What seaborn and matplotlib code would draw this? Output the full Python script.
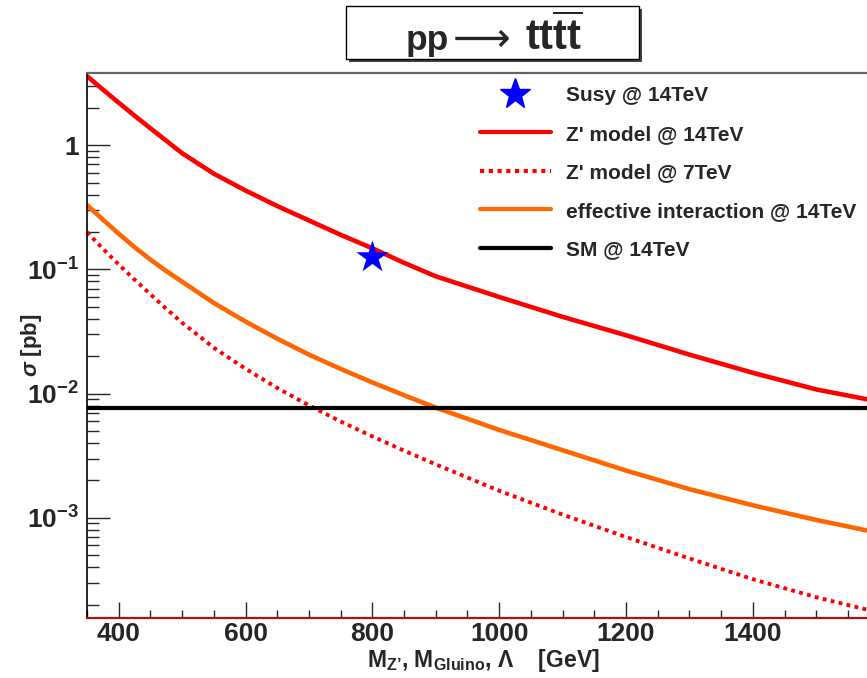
import numpy as np
import pandas as pd
import matplotlib
matplotlib.use("Agg")
import matplotlib.pyplot as plt
import matplotlib.ticker as mticker
from matplotlib.lines import Line2D
from matplotlib.patches import Rectangle
import seaborn as sns

# Cross sections for pp -> tttt (pb) versus the mass scale (GeV)
mass = [350, 375, 400, 425, 450, 475, 500, 550, 600, 650, 700, 750, 800, 850, 900,
        1000, 1100, 1200, 1300, 1400, 1500, 1580]
zprime_14tev = [3.61, 2.81, 2.20, 1.73, 1.37, 1.087, 0.863, 0.59, 0.432, 0.324, 0.248, 0.19,
                0.148, 0.113, 0.088, 0.060, 0.0415, 0.0295, 0.0206, 0.0147, 0.0108, 0.0090]
zprime_7tev = [0.20, 0.147, 0.1096, 0.0828, 0.0631, 0.0482, 0.0372, 0.0234, 0.01585, 0.0111,
               0.00804, 0.00596, 0.00452, 0.00347, 0.00269, 0.00165, 0.00106, 0.00070,
               0.00047, 0.00032, 0.000229, 0.000182]
effective_14tev = [0.330, 0.252, 0.194, 0.151, 0.120, 0.097, 0.0796, 0.0537, 0.038, 0.0277,
                   0.0206, 0.0158, 0.0123, 0.0097, 0.0077, 0.0051, 0.0035, 0.0024, 0.0017,
                   0.00126, 0.00096, 0.00079]
sm_14tev = 0.0076
susy_mass = [800]
susy_14tev = [0.125]

labels = ["Susy @ 14TeV", "Z' model @ 14TeV", "Z' model @ 7TeV",
          "effective interaction @ 14TeV", "SM @ 14TeV"]

sns.set_style("ticks")
plt.rcParams["font.family"] = ["Liberation Sans", "DejaVu Sans"]
plt.rcParams["font.weight"] = "bold"
plt.rcParams["mathtext.fontset"] = "custom"
plt.rcParams["mathtext.rm"] = "Liberation Sans:bold"
plt.rcParams["mathtext.bf"] = "Liberation Sans:bold"
plt.rcParams["mathtext.it"] = "Liberation Sans:bold:italic"
plt.rcParams["mathtext.sf"] = "Liberation Sans:bold"

W, H = 867, 678
fig = plt.figure(figsize=(W / 100, H / 100), dpi=100)
ax = fig.add_axes([87 / W, 1 - 618.3 / H, 1 - 87 / W, (618.3 - 72.7) / H])

df = pd.DataFrame({"mass": mass, "z14": zprime_14tev, "z7": zprime_7tev, "eff": effective_14tev})
df["sm"] = sm_14tev

sns.lineplot(data=df, x="mass", y="z14", ax=ax, color="#ff0000", lw=3.3)
sns.lineplot(data=df, x="mass", y="z7", ax=ax, color="#ff0000", lw=2.8)
l_z7 = ax.lines[-1]
l_z7.set_dashes([1.0, 1.1])
l_z7.set_dash_capstyle("butt")
sns.lineplot(data=df, x="mass", y="eff", ax=ax, color="#ff6600", lw=3.3)
sns.lineplot(data=df, x="mass", y="sm", ax=ax, color="black", lw=3.0)
sns.scatterplot(x=susy_mass, y=susy_14tev, ax=ax, marker="*", s=600, color="#0000ff",
                edgecolor="#0000ff", linewidth=0, zorder=5)

ax.set_yscale("log")
ax.set_xlim(350, 1580)
ax.set_ylim(1.55e-4, 3.84)

# axis frame
ax.spines["right"].set_visible(False)
ax.spines["left"].set_color("black")
ax.spines["left"].set_linewidth(1.2)
ax.spines["top"].set_color("#666666")
ax.spines["top"].set_linewidth(1.6)
ax.spines["bottom"].set_color("#b01010")
ax.spines["bottom"].set_linewidth(1.6)

ax.xaxis.set_major_locator(mticker.MultipleLocator(200))
ax.xaxis.set_minor_locator(mticker.MultipleLocator(50))
ax.yaxis.set_major_locator(mticker.LogLocator(base=10, numticks=20))
ax.yaxis.set_minor_locator(mticker.LogLocator(base=10, subs=np.arange(2, 10), numticks=20))
ax.yaxis.set_minor_formatter(mticker.NullFormatter())


def decade_label(v, pos):
    e = int(round(np.log10(v)))
    if e == 0:
        return "1"
    return r"$\mathbf{10^{%d}}$" % e


ax.yaxis.set_major_formatter(mticker.FuncFormatter(decade_label))
ax.tick_params(axis="y", which="major", direction="in", length=16.5, width=1.0,
               labelsize=19, pad=6, right=False)
ax.tick_params(axis="y", which="minor", direction="in", length=8.6, width=1.0, right=False)
ax.tick_params(axis="x", which="major", direction="in", length=11.5, width=1.0,
               labelsize=19, pad=3, top=False)
ax.tick_params(axis="x", which="minor", direction="in", length=5.8, width=1.0, top=False)
for lab in ax.get_xticklabels() + ax.get_yticklabels():
    lab.set_fontweight("bold")

ax.set_xlabel("M$_{\\mathbf{Z\u2019}}$, M$_{\\mathbf{Gluino}}$, $\\Lambda$    [GeV]",
              fontsize=16.5, fontweight="bold")
ax.set_ylabel(r"$\sigma$ [pb]", fontsize=16, fontweight="bold")
ax.xaxis.set_label_coords((483 - 87) / (W - 87), -0.052)
ax.yaxis.set_label_coords((44 - 87) / (W - 87), 0.5)

# legend
star_handle = Line2D([], [], marker="*", color="#0000ff", markersize=23, linestyle="none")
h_z14 = Line2D([], [], color="#ff0000", lw=3.0)
h_z7 = Line2D([], [], color="#ff0000", lw=3.0, dashes=[1.0, 1.1], dash_capstyle="butt")
h_eff = Line2D([], [], color="#ff6600", lw=3.0)
h_sm = Line2D([], [], color="black", lw=3.0)
leg = ax.legend([star_handle, h_z14, h_z7, h_eff, h_sm], labels,
                loc="upper left", bbox_to_anchor=(480 / W, 1 - 86 / H),
                bbox_transform=fig.transFigure, frameon=False, borderpad=0,
                borderaxespad=0, handlelength=3.4, handletextpad=0.75,
                labelspacing=0.94, numpoints=1, prop={"size": 15, "weight": "bold"})

# title box with shadow
fig.patches.append(Rectangle((349 / W, 1 - 62 / H), 293 / W, 53 / H,
                             transform=fig.transFigure, facecolor="#444444",
                             edgecolor="none", zorder=1))
fig.patches.append(Rectangle((346 / W, 1 - 59 / H), 293 / W, 53 / H,
                             transform=fig.transFigure, facecolor="white",
                             edgecolor="black", lw=1.0, zorder=2))
base = 1 - 50 / H
fig.text(406 / W, base, "pp", ha="left", va="baseline", fontsize=25.5,
         fontweight="bold", zorder=3)
fig.text(482 / W, base - 1 / H, "\u27f6", ha="center", va="baseline", fontsize=29,
         fontweight="normal", family=["DejaVu Sans"], zorder=3)
fig.text(582 / W, base, r"$\mathbf{tt}\overline{\mathbf{tt}}$", ha="right",
         va="baseline", fontsize=30, zorder=3)

fig.savefig("out.png", dpi=100, facecolor="white")
